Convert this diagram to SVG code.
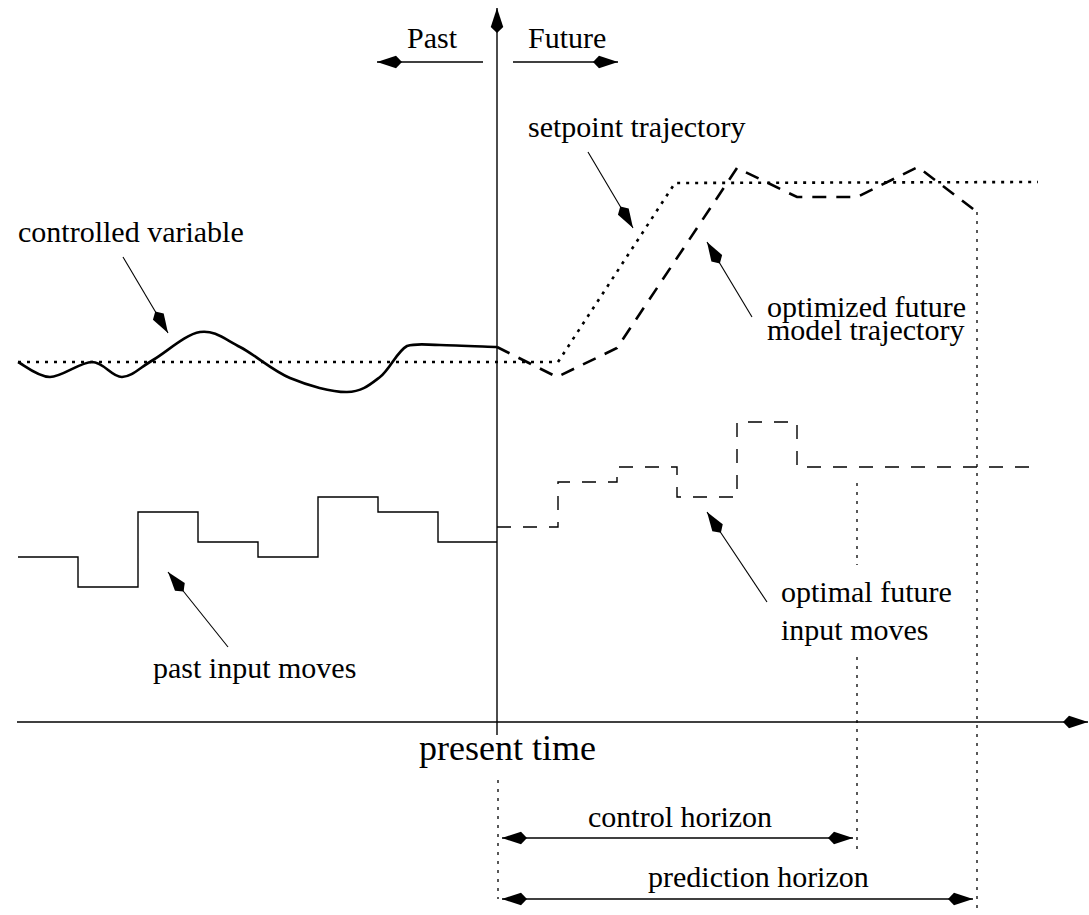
<svg xmlns="http://www.w3.org/2000/svg" width="1089" height="915" viewBox="0 0 1089 915">
<defs>
<style>
text{font-family:"Liberation Serif","Times New Roman",serif;font-size:30px;fill:#000}
.ax{stroke:#000;stroke-width:1.4;fill:none}
.ar{stroke:#000;stroke-width:1.1;fill:none}
.cv{stroke:#000;stroke-width:2.6;fill:none;stroke-linejoin:round}
.sp{stroke:#000;stroke-width:2.6;fill:none;stroke-dasharray:3 6}
.mt{stroke:#000;stroke-width:2.6;fill:none;stroke-dasharray:14 10}
.pi{stroke:#000;stroke-width:1.4;fill:none}
.fi{stroke:#000;stroke-width:1.4;fill:none;stroke-dasharray:14 12}
.dv{stroke:#000;stroke-width:1.3;fill:none;stroke-dasharray:3 6}
</style>
<marker id="ah" markerUnits="userSpaceOnUse" markerWidth="28" markerHeight="16" refX="25" refY="8" orient="auto-start-reverse">
<path d="M25,8 L6,1.75 L0,8 L6,14.25 Z" fill="#000"/>
</marker>
</defs>
<rect width="1089" height="915" fill="#fff"/>
<g id="connectors">
<line class="ax" x1="497" y1="735" x2="497" y2="8" marker-end="url(#ah)"/>
<line class="ax" x1="17" y1="722" x2="1088" y2="722" marker-end="url(#ah)"/>
<line class="ax" x1="483" y1="62" x2="377" y2="62" marker-end="url(#ah)"/>
<line class="ax" x1="513" y1="62" x2="618" y2="62" marker-end="url(#ah)"/>
<line class="ar" x1="123" y1="257" x2="168" y2="333" marker-end="url(#ah)"/>
<line class="ar" x1="588" y1="152" x2="633" y2="228" marker-end="url(#ah)"/>
<line class="ar" x1="752" y1="317" x2="707" y2="242" marker-end="url(#ah)"/>
<line class="ar" x1="767" y1="602" x2="707" y2="512" marker-end="url(#ah)"/>
<line class="ar" x1="228" y1="647" x2="168" y2="572" marker-end="url(#ah)"/>
<line class="ax" x1="502" y1="838" x2="853" y2="838" marker-start="url(#ah)" marker-end="url(#ah)"/>
<line class="ax" x1="502" y1="899" x2="973" y2="899" marker-start="url(#ah)" marker-end="url(#ah)"/>
<line class="dv" x1="498" y1="780" x2="498" y2="899"/>
<line class="dv" x1="857" y1="483" x2="857" y2="565"/>
<line class="dv" x1="857" y1="657" x2="857" y2="853"/>
<line class="dv" x1="977" y1="212" x2="977" y2="912"/>
</g>
<g id="controlled-variable">
<path class="cv" d="M18,362 C23.3,364.5 37.7,377 50,377 C62.3,377 80,362 92,362 C104,362 111.8,377.3 122,377 C132.2,376.7 140,367.5 153,360 C166,352.5 185.5,334.2 200,332 C214.5,329.8 225,339.3 240,347 C255,354.7 272.2,370.5 290,378 C307.8,385.5 332,392.2 347,392 C362,391.8 370,384.7 380,377 C390,369.3 397,351.3 407,346 C417,343 425,344.8 440,345 C455,345.2 487.5,346.7 497,347"/>
<text x="18" y="242">controlled variable</text>
</g>
<g id="setpoint-trajectory">
<path class="sp" d="M18,362 L558,362 L675,183 L1038,182"/>
<text x="528" y="137">setpoint trajectory</text>
</g>
<g id="model-trajectory">
<path class="mt" d="M497,347 L557,377 L617,348 L737,168 L797,197 L857,197 L918,167 L977,212"/>
<text x="767" y="317">optimized future</text>
<text x="767" y="340">model trajectory</text>
</g>
<g id="past-inputs">
<path class="pi" d="M18,557 H78 V587 H138 V512 H198 V542 H258 V557 H318 V497 H378 V512 H438 V542 H497"/>
<text x="153" y="678">past input moves</text>
</g>
<g id="future-inputs">
<path class="fi" d="M497,527 H558 V482 H617 V467 H677 V497 H737 V422 H797 V467 H1037"/>
<text x="781" y="602">optimal future</text>
<text x="781" y="640">input moves</text>
</g>
<g id="labels">
<text x="407" y="48">Past</text>
<text x="528" y="48">Future</text>
<text x="419" y="760" style="font-size:36px">present time</text>
<text x="588" y="827">control horizon</text>
<text x="648" y="887">prediction horizon</text>
</g>
</svg>
